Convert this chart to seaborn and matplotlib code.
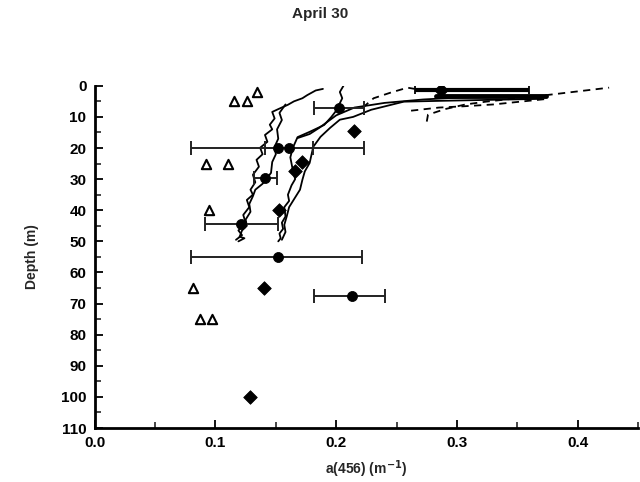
import numpy as np
import pandas as pd
import matplotlib
matplotlib.use("Agg")
import matplotlib.pyplot as plt
import seaborn as sns

# ------------------------------------------
# DATA
# ------------------------------------------

# open triangles
tri_x = [0.115, 0.126, 0.134, 0.092, 0.110, 0.095, 0.081, 0.087, 0.097]
tri_y = [5, 5, 2, 25, 25, 40, 65, 75, 75]

# filled diamonds
dia_x = [0.287, 0.215, 0.172, 0.166, 0.153, 0.140, 0.129]
dia_y = [1.5, 14.5, 24.5, 27.5, 40, 65, 100]

# filled circles with horizontal error bars
circ_x = [0.202, 0.152, 0.161, 0.141, 0.121, 0.152, 0.213]
circ_y = [7, 20, 20, 29.5, 44.5, 55, 67.5]
circ_lo = [0.182, 0.080, 0.141, 0.132, 0.091, 0.080, 0.182]
circ_hi = [0.223, 0.223, 0.181, 0.151, 0.152, 0.221, 0.240]

# diamond near surface error bar
surf_x = [0.287]
surf_y = [1.2]
surf_lo = [0.265]
surf_hi = [0.360]

# solid profiles
prof_a1_x = [0.189, 0.183, 0.176, 0.172, 0.165, 0.160, 0.152, 0.147, 0.149, 0.145, 0.147, 0.141, 0.143,
             0.137, 0.139, 0.134, 0.136, 0.131, 0.133, 0.129, 0.131, 0.126, 0.128, 0.123, 0.125, 0.119,
             0.122, 0.117]
prof_a1_y = [1.0, 1.5, 3.0, 4.0, 5.0, 6.1, 7.5, 8.4, 10.5, 12.5, 14.0, 15.8, 18.0,
             19.9, 22.0, 23.8, 26.0, 28.6, 31.0, 33.4, 35.0, 36.7, 39.0, 41.5, 44.0, 46.5,
             48.0, 49.5]

prof_a2_x = [0.158, 0.153, 0.155, 0.151, 0.152, 0.149, 0.150, 0.147, 0.146, 0.139, 0.133, 0.131,
             0.128, 0.129, 0.125, 0.126, 0.122, 0.120, 0.124, 0.119]
prof_a2_y = [6.0, 8.7, 11.0, 14.0, 17.0, 19.6, 22.0, 24.5, 28.0, 31.5, 33.4, 35.5,
             38.0, 40.5, 43.0, 45.0, 46.5, 48.5, 49.0, 50.0]

prof_b_x = [0.206, 0.203, 0.205, 0.200, 0.196, 0.190, 0.178, 0.168, 0.164, 0.162, 0.164, 0.166,
            0.163, 0.160, 0.161, 0.157, 0.158, 0.155, 0.156, 0.153, 0.154, 0.152]
prof_b_y = [0.0, 2.0, 4.0, 8.0, 10.0, 12.6, 14.8, 16.5, 20.0, 23.0, 27.0, 30.0,
            32.0, 35.0, 37.0, 39.0, 42.0, 44.0, 46.0, 47.5, 49.0, 50.0]

prof_c_x = [0.370, 0.330, 0.290, 0.256, 0.229, 0.214, 0.203, 0.195, 0.187, 0.181, 0.178, 0.174,
            0.172, 0.170, 0.165, 0.161, 0.159, 0.157, 0.158, 0.155]
prof_c_y = [4.2, 4.5, 4.8, 5.1, 7.7, 10.0, 10.9, 13.5, 16.4, 19.6, 24.8, 27.5,
            30.2, 33.4, 36.5, 39.0, 42.0, 44.7, 47.0, 49.5]

prof_d_x = [0.368, 0.330, 0.300, 0.272, 0.240, 0.215, 0.200, 0.186, 0.178, 0.168]
prof_d_y = [3.3, 3.4, 3.8, 4.4, 5.5, 7.0, 9.5, 13.5, 15.5, 16.8]

# thick surface bar
thick_x = [0.283, 0.374]
thick_y = [3.2, 3.2]

# dashed profiles
dash_1_x = [0.222, 0.231, 0.245, 0.259, 0.265]
dash_1_y = [7.0, 4.0, 2.2, 0.6, 1.0]
dash_2_x = [0.275, 0.276, 0.290, 0.307, 0.324, 0.350, 0.374, 0.400, 0.426]
dash_2_y = [11.5, 9.3, 7.5, 6.0, 5.1, 4.0, 3.0, 1.8, 0.6]
dash_3_x = [0.262, 0.285, 0.305, 0.330, 0.355, 0.375]
dash_3_y = [8.0, 7.0, 6.6, 6.0, 5.0, 4.2]

x_ticks = [0.0, 0.1, 0.2, 0.3, 0.4]
y_ticks = list(range(0, 111, 10))

# ------------------------------------------
# STYLE
# ------------------------------------------

sns.set_theme(style="white")
plt.rcParams['font.family'] = ['Liberation Sans', 'DejaVu Sans']
plt.rcParams['font.weight'] = 'bold'

fig = plt.figure(figsize=(6.4, 4.82), dpi=100)
ax = fig.add_axes([0.148, 0.112, 0.849, 0.710])

# ------------------------------------------
# PROFILES
# ------------------------------------------

solid = [(prof_a1_x, prof_a1_y), (prof_a2_x, prof_a2_y), (prof_b_x, prof_b_y),
         (prof_c_x, prof_c_y), (prof_d_x, prof_d_y)]
for px, py in solid:
    sns.lineplot(x=px, y=py, sort=False, estimator=None, color="black", lw=1.3, ax=ax)

sns.lineplot(x=thick_x, y=thick_y, sort=False, estimator=None, color="black", lw=3.5, ax=ax)

for px, py in [(dash_1_x, dash_1_y), (dash_2_x, dash_2_y), (dash_3_x, dash_3_y)]:
    sns.lineplot(x=px, y=py, sort=False, estimator=None, color="black", lw=1.3,
                 linestyle=(0, (4, 3)), ax=ax)

# ------------------------------------------
# ERROR BARS + MARKERS
# ------------------------------------------

circ_x = np.array(circ_x)
xerr = [circ_x - np.array(circ_lo), np.array(circ_hi) - circ_x]
ax.errorbar(circ_x, circ_y, xerr=xerr, fmt="none", ecolor="#222222",
            elinewidth=1.4, capsize=5, capthick=1.4)

surf_x = np.array(surf_x)
ax.errorbar(surf_x, surf_y, xerr=[surf_x - np.array(surf_lo), np.array(surf_hi) - surf_x],
            fmt="none", ecolor="black", elinewidth=3, capsize=3, capthick=1.3)

sns.scatterplot(x=tri_x, y=tri_y, marker="^", s=45, facecolor="white",
                edgecolor="black", linewidth=1.5, ax=ax, zorder=5)
sns.scatterplot(x=dia_x, y=dia_y, marker="D", s=48, color="black",
                edgecolor="black", ax=ax, zorder=5)
sns.scatterplot(x=list(circ_x), y=circ_y, marker="o", s=52, color="black",
                edgecolor="black", ax=ax, zorder=5)

# ------------------------------------------
# AXES
# ------------------------------------------

ax.set_xlim(0, 0.45)
ax.set_ylim(110, 0)
ax.set_xticks(x_ticks)
ax.set_xticklabels([f"{v:.1f}" for v in x_ticks])
ax.set_xticks(np.arange(0, 0.451, 0.05), minor=True)
ax.set_yticks(y_ticks)
ax.set_yticks(range(5, 110, 10), minor=True)

for side in ["top", "right"]:
    ax.spines[side].set_visible(False)
for side in ["left", "bottom"]:
    ax.spines[side].set_linewidth(2)
    ax.spines[side].set_color("black")

ax.tick_params(which="major", direction="in", length=6, width=1.3, labelsize=11,
               colors="black", pad=6, left=True, bottom=True)
ax.tick_params(which="minor", direction="in", length=4, width=1.2,
               left=True, bottom=True)

ax.set_xlabel("a(456) (m$^{\\mathbf{-1}}$)", fontsize=10, fontweight="bold", labelpad=6)
ax.set_ylabel("Depth (m)", fontsize=10, fontweight="bold", labelpad=16)
fig.suptitle("April 30", x=0.5, y=0.985, fontsize=11, fontweight="bold")

fig.savefig("out.png", dpi=100)
